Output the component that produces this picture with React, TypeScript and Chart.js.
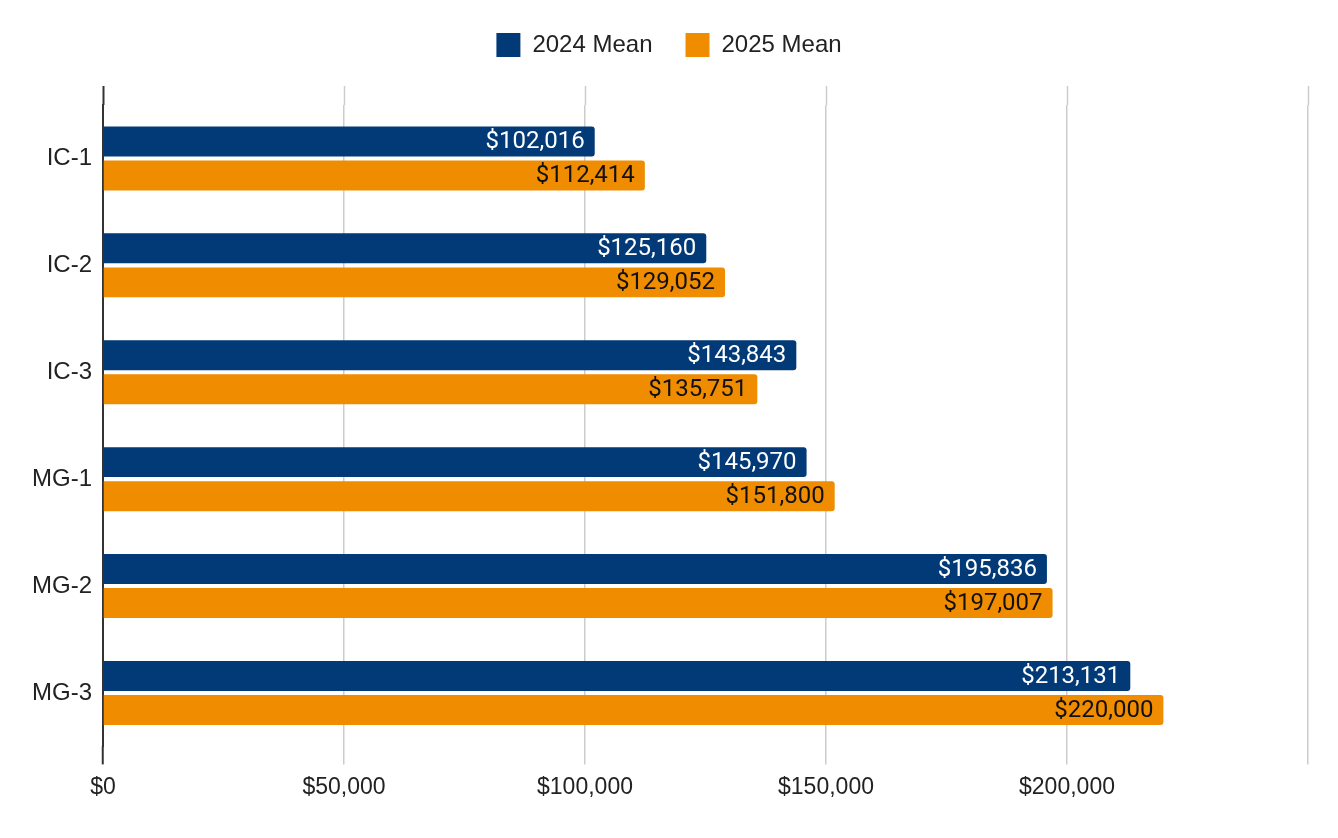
import React, { useEffect, useRef } from "react";
import { Chart, registerables } from "chart.js";

Chart.register(...registerables);

const categories = ["IC-1", "IC-2", "IC-3", "MG-1", "MG-2", "MG-3"];
const mean2024 = [102016, 125160, 143843, 145970, 195836, 213131];
const mean2025 = [112414, 129052, 135751, 151800, 197007, 220000];
const seriesNames = ["2024 Mean", "2025 Mean"];
const xTickValues = [0, 50000, 100000, 150000, 200000, 250000];
const xTickLabels = ["$0", "$50,000", "$100,000", "$150,000", "$200,000", ""];

const BLUE = "#013a76";
const ORANGE = "#ef8c00";
const GRID = "#cccccc";
const AXIS = "#333333";
const SANS = "Arial, 'Liberation Sans', sans-serif";

const fmt = (v: number) => "$" + v.toLocaleString("en-US");

const legendMargin = {
  id: "legendMargin",
  beforeInit(chart: any) {
    const legend = chart.legend;
    if (!legend) return;
    const origFit = legend.fit;
    legend.fit = function () {
      origFit.call(this);
      this.height += 19;
    };
  },
};

const barLabels = {
  id: "barLabels",
  afterDatasetsDraw(chart: any) {
    const ctx = chart.ctx;
    ctx.save();
    ctx.font = "24px Roboto";
    ctx.textAlign = "right";
    ctx.textBaseline = "middle";
    chart.data.datasets.forEach((ds: any, di: number) => {
      const meta = chart.getDatasetMeta(di);
      ctx.fillStyle = di === 0 ? "#ffffff" : "#111111";
      meta.data.forEach((el: any, i: number) => {
        ctx.fillText(fmt(ds.data[i]), el.x - 10, el.y + 1);
      });
    });
    ctx.restore();
  },
};

const setTicks = (scale: any) => {
  scale.ticks = xTickValues.map((v) => ({ value: v }));
};

export default function App() {
  const ref = useRef<HTMLCanvasElement>(null);
  useEffect(() => {
    if (!ref.current) return;
    const chart = new Chart(ref.current, {
      type: "bar",
      data: {
        labels: categories,
        datasets: [
          {
            label: seriesNames[0],
            data: mean2024,
            backgroundColor: BLUE,
            borderRadius: 3,
            barPercentage: 0.88,
            categoryPercentage: 0.637,
          },
          {
            label: seriesNames[1],
            data: mean2025,
            backgroundColor: ORANGE,
            borderRadius: 3,
            barPercentage: 0.88,
            categoryPercentage: 0.637,
          },
        ],
      },
      options: {
        indexAxis: "y",
        animation: false,
        responsive: true,
        maintainAspectRatio: false,
        layout: { padding: { top: 0, left: 30, right: 30, bottom: 28 } },
        plugins: {
          legend: {
            position: "top",
            labels: {
              boxWidth: 24,
              boxHeight: 24,
              padding: 33,
              color: "#222222",
              font: { family: SANS, size: 24 },
            },
          },
          tooltip: { enabled: false },
        },
        scales: {
          x: {
            type: "linear",
            position: "bottom",
            min: 0,
            max: 250000,
            afterBuildTicks: setTicks,
            border: { display: false },
            grid: {
              color: (c: any) => (c.index === 0 ? "rgba(0,0,0,0)" : GRID),
              lineWidth: 1.5,
              tickLength: 18,
              tickColor: (c: any) => (c.index === 0 ? AXIS : GRID),
              tickWidth: (c: any) => (c.index === 0 ? 2 : 1.5),
            },
            ticks: {
              padding: 9,
              color: "#222222",
              font: { family: SANS, size: 23 },
              maxRotation: 0,
              autoSkip: false,
              callback: (_v: any, i: number) => xTickLabels[i],
            },
          },
          xTop: {
            type: "linear",
            position: "top",
            min: 0,
            max: 250000,
            afterBuildTicks: setTicks,
            border: { display: false },
            grid: {
              drawOnChartArea: false,
              tickLength: 19,
              tickColor: (c: any) => (c.index === 0 ? AXIS : GRID),
              tickWidth: (c: any) => (c.index === 0 ? 2 : 1.5),
            },
            ticks: { display: false },
          },
          y: {
            type: "category",
            grid: { display: false, drawTicks: false },
            border: { display: true, color: AXIS, width: 2 },
            afterFit: (scale: any) => {
              scale.width = 73;
            },
            ticks: {
              padding: 11,
              color: "#222222",
              font: { family: SANS, size: 24 },
            },
          },
        },
      },
      plugins: [legendMargin, barLabels],
    } as any);
    return () => chart.destroy();
  }, []);
  return (
    <div style={{ position: "fixed", left: 0, top: 0, width: 1338, height: 838, background: "#fff" }}>
      <canvas ref={ref} />
    </div>
  );
}
